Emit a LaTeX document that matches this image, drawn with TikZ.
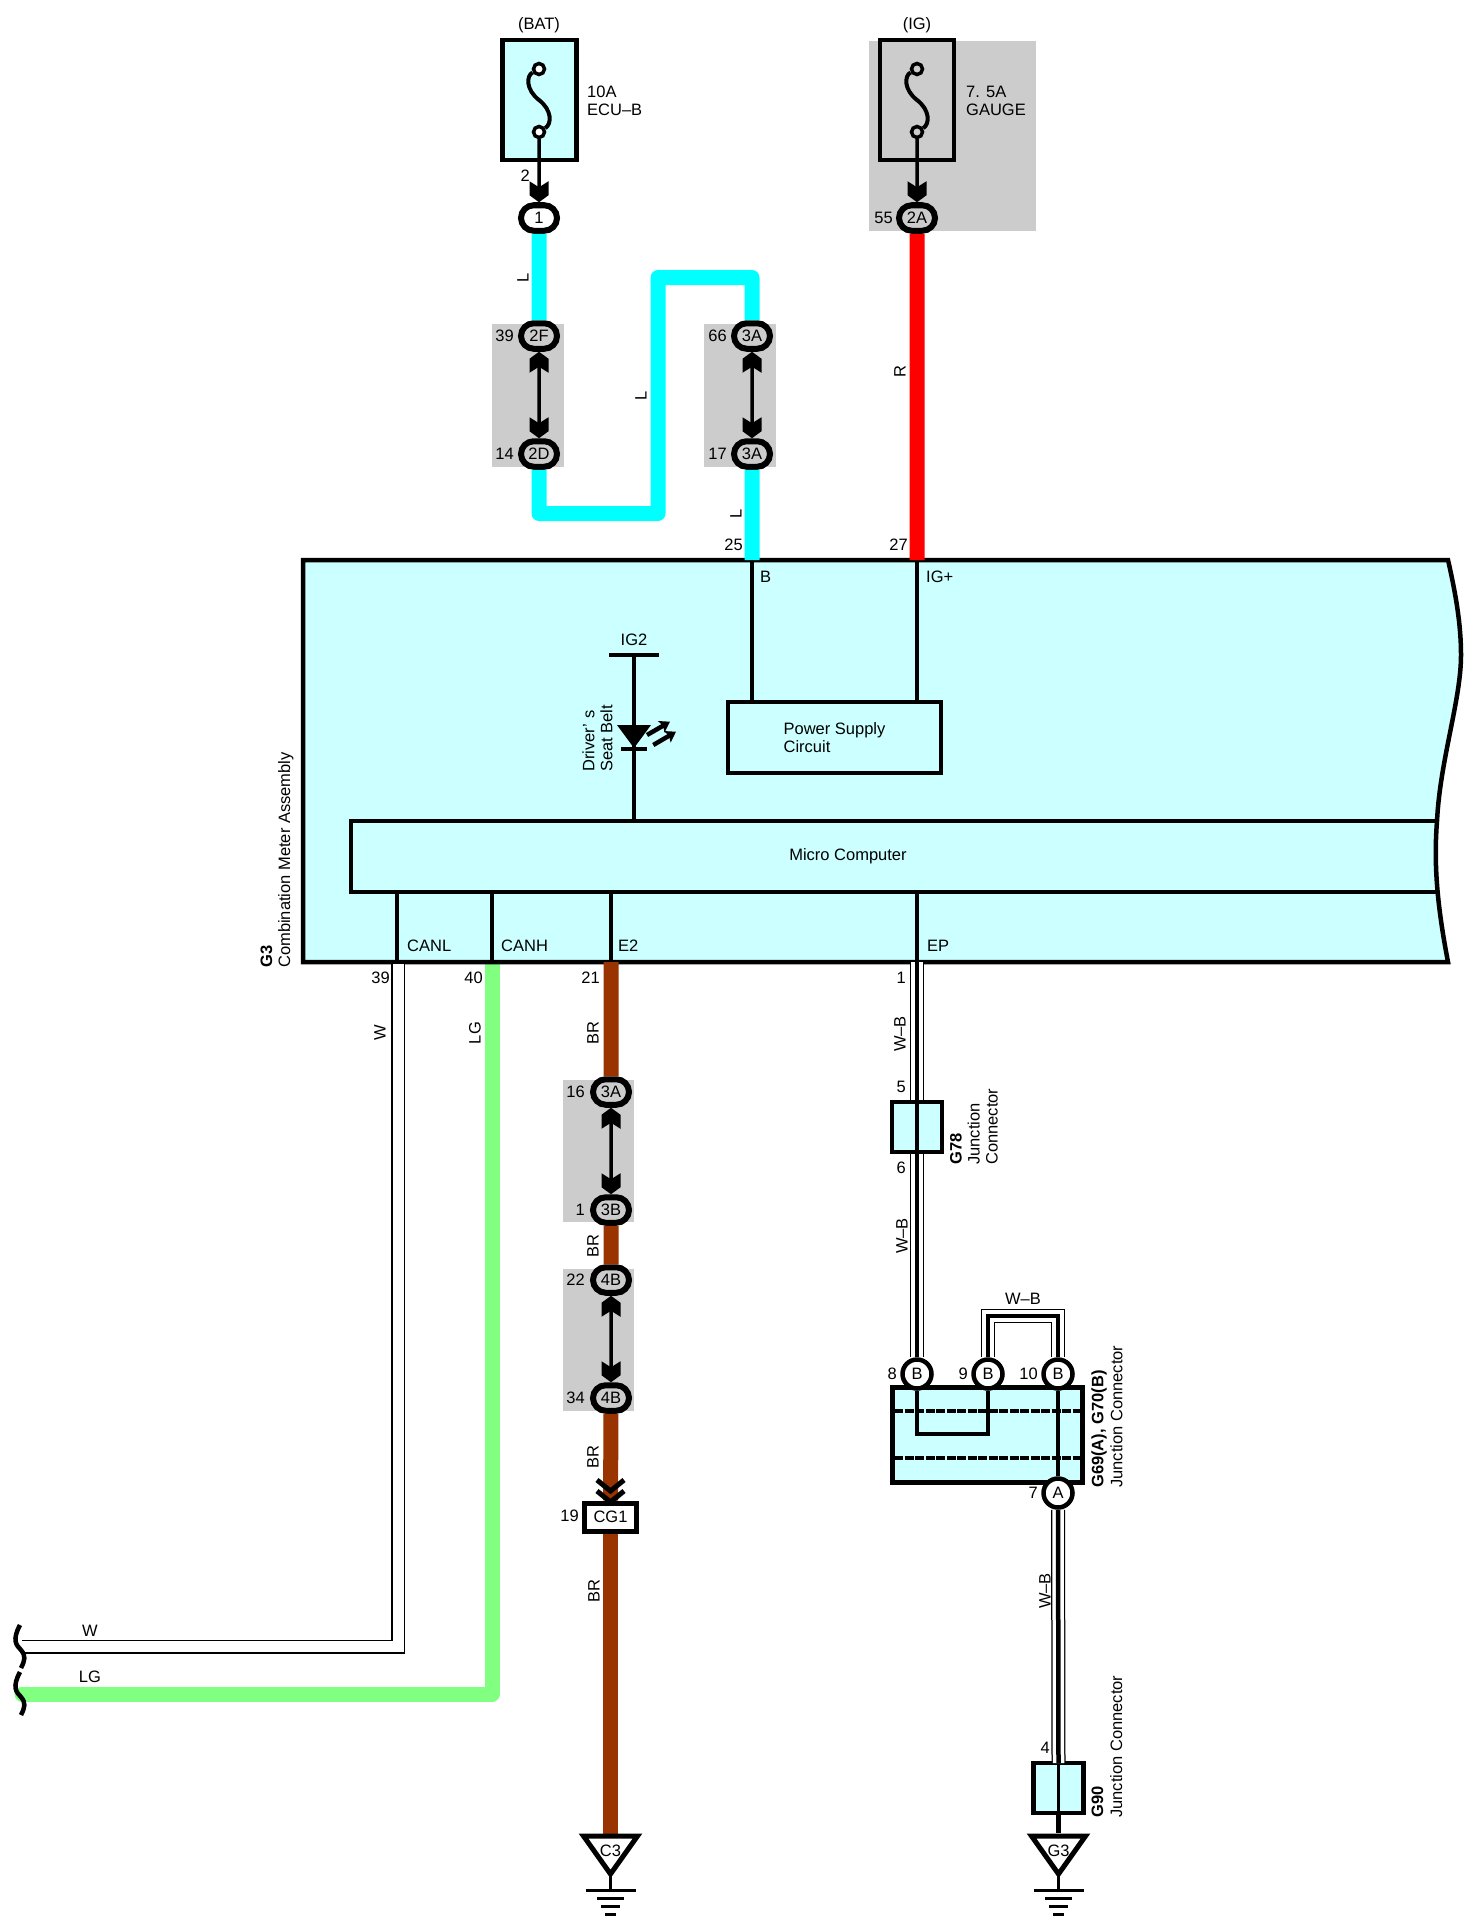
\documentclass[tikz,border=0pt]{standalone}
\usepackage{fontspec}
\setmainfont{Liberation Sans}
\usetikzlibrary{shapes.misc,arrows.meta}

\definecolor{boxcyan}{HTML}{CCFFFF}
\definecolor{bandgrey}{HTML}{CCCCCC}
\definecolor{wirecyan}{HTML}{00FFFF}
\definecolor{wirered}{HTML}{FF0000}
\definecolor{wiregreen}{HTML}{80FF80}
\definecolor{wirebrown}{HTML}{993300}

\pgfdeclarearrow{
  name=Chev,
  setup code={
    \pgfarrowssettipend{0pt}
    \pgfarrowssetbackend{-21pt}
    \pgfarrowssetlineend{-10pt}
    \pgfarrowssetvisualbackend{-21pt}
    \pgfarrowssetvisualtipend{0pt}
  },
  drawing code={
    \pgfpathmoveto{\pgfpoint{0pt}{0pt}}
    \pgfpathlineto{\pgfpoint{-7pt}{9.5pt}}
    \pgfpathlineto{\pgfpoint{-21pt}{9.5pt}}
    \pgfpathlineto{\pgfpoint{-15pt}{0pt}}
    \pgfpathlineto{\pgfpoint{-21pt}{-9.5pt}}
    \pgfpathlineto{\pgfpoint{-7pt}{-9.5pt}}
    \pgfpathclose
    \pgfusepathqfill
  },
  defaults={}
}

\tikzset{
  every node/.style={font=\fontsize{16.5}{18}\selectfont, inner sep=0pt},
  heavy/.style={line width=4.5pt},
  thinln/.style={line width=3.5pt},
  oval/.style={draw, rounded rectangle, line width=6pt, minimum width=36pt, minimum height=25.5pt},
  pin/.style={draw, circle, fill=white, line width=4.5pt, minimum size=29pt},
  tiny/.style={draw, circle, fill=white, line width=3.5pt, minimum size=11pt},
  fusebox/.style={draw, heavy, minimum width=74pt, minimum height=120pt},
  jbox/.style={draw, heavy, fill=boxcyan, minimum width=50pt, minimum height=50pt},
  wire/.style={line width=15pt, line join=round},
  wbwire/.style={line width=4.5pt, preaction={draw, black, line width=14pt}, preaction={draw, white, line width=11.5pt}},
  wwire/.style={line width=1.5pt, double=white, double distance=11pt},
  pics/gnd/.style={code={
    \draw[line width=5pt, fill=white, line join=miter] (-27,3) -- (27,3) -- (0,41) -- cycle;
    \draw[thinln] (0,41) -- (0,57);
    \draw[line width=3pt] (-25,57) -- (25,57);
    \draw[line width=3pt] (-13.5,65) -- (13.5,65);
    \draw[line width=3pt] (-9.5,73) -- (9.5,73);
    \draw[line width=3pt] (-5.5,81) -- (5.5,81);
    \node (-lab) at (0,18) {#1};
  }}
}

\begin{document}
\begin{tikzpicture}[x=1pt,y=-1pt]
  \useasboundingbox (0,0) rectangle (1479,1929);

  % grey bands
  \fill[bandgrey] (492,324) rectangle (564,467);
  \fill[bandgrey] (704,324) rectangle (776,467);
  \fill[bandgrey] (869,41) rectangle (1036,231);
  \fill[bandgrey] (563,1080) rectangle (634,1222);
  \fill[bandgrey] (563,1269) rectangle (634,1411);

  % the green wire goes under the meter box
  \coordinate (lgend) at (22,1694);
  \draw[wire, wiregreen, line cap=round] (492,950) -- (492,1694) -- (lgend);

  % combination meter
  \draw[heavy, fill=boxcyan, line join=miter] (303,560) -- (1448,560) .. controls (1456,595) and (1461,625) .. (1461,655)
    .. controls (1461,700) and (1440,760) .. (1437,821) .. controls (1434,860) and (1436,900) .. (1448,962) -- (303,962) -- cycle;
  \draw[heavy, line join=miter] (1437,821) -- (351,821) -- (351,892) -- (1436,892);
  \node (micro) at (848,856) {Micro Computer};
  \node[draw, heavy, align=left, minimum width=213pt, minimum height=71pt] (psu) at (834.5,737.5) {Power Supply\\Circuit};

  \coordinate (pinb) at (752,560);
  \coordinate (pinig) at (917,560);
  \coordinate (pincanl) at (397,962);
  \coordinate (pincanh) at (492,962);
  \coordinate (pine2) at (611,962);
  \coordinate (pinep) at (917,962);
  \draw[thinln] (pinb) -- (pinb |- psu.north);
  \draw[thinln] (pinig) -- (pinig |- psu.north);
  \draw[thinln] (397,892) -- (pincanl);
  \draw[thinln] (492,892) -- (pincanh);
  \draw[thinln] (611,892) -- (pine2);
  \draw[thinln] (917,892) -- (pinep);

  % seat belt lamp
  \node (ig2) at (634,640) {IG2};
  \coordinate (ig2bar) at (634,655);
  \draw[thinln] (609,655) -- (659,655);
  \draw[thinln] (ig2bar) -- (634,821);
  \fill (617,725) -- (651,725) -- (634,748) -- cycle;
  \draw[thinln] (621,749) -- (647,749);
  \draw[line width=4.5pt, -{Stealth[length=10pt,width=13pt,inset=2pt]}] (647,735) -- (670,721.7);
  \draw[line width=4.5pt, -{Stealth[length=10pt,width=13pt,inset=2pt]}] (653.3,745) -- (676,731.7);
  \node[rotate=90, anchor=west, align=left] (lamp) at (597.5,772) {Driver' s\\Seat Belt};

  % fuses
  \node[fusebox, fill=boxcyan] (fuse1) at (539.5,100) {};
  \node[tiny] (f1t) at (539,69) {};
  \node[tiny] (f1b) at (539,132) {};
  \draw[line width=4pt] (f1t) .. controls (526,76) and (526,90) .. (539,100) .. controls (552,110) and (552,124) .. (f1b);
  \node[fusebox] (fuse2) at (917,100) {};
  \node[tiny, fill=bandgrey] (f2t) at (917,69) {};
  \node[tiny, fill=bandgrey] (f2b) at (917,132) {};
  \draw[line width=4pt] (f2t) .. controls (904,76) and (904,90) .. (917,100) .. controls (930,110) and (930,124) .. (f2b);
  \node (bat) at (539,25) {(BAT)};
  \node (ig) at (917,25) {(IG)};
  \node[right, align=left] (ecub) at (587,100.5) {10A\\ECU–B};
  \node[right, align=left] (gauge) at (966,100.5) {7. 5A\\GAUGE};

  % in-line connectors
  \node[oval, fill=white] (o1) at (539,218) {1};
  \node[oval, fill=bandgrey] (o2f) at (539,336) {2F};
  \node[oval, fill=bandgrey] (o2d) at (539,454) {2D};
  \node[oval, fill=bandgrey] (o3at) at (752,336) {3A};
  \node[oval, fill=bandgrey] (o3ab) at (752,454) {3A};
  \node[oval, fill=bandgrey] (o2a) at (917,218) {2A};
  \node[oval, fill=bandgrey] (o3a) at (611,1092) {3A};
  \node[oval, fill=bandgrey] (o3b) at (611,1210) {3B};
  \node[oval, fill=bandgrey] (o4bt) at (611,1280) {4B};
  \node[oval, fill=bandgrey] (o4b) at (611,1398) {4B};
  \node[draw, fill=white, line width=5pt, minimum width=52pt, minimum height=28pt] (cg1) at (610.5,1517) {CG1};

  \draw[thinln, -Chev] (f1b) -- (o1);
  \draw[thinln, -Chev] (f2b) -- (o2a);
  \draw[thinln, Chev-Chev] (o2f) -- (o2d);
  \draw[thinln, Chev-Chev] (o3at) -- (o3ab);
  \draw[thinln, Chev-Chev] (o3a) -- (o3b);
  \draw[thinln, Chev-Chev] (o4bt) -- (o4b);

  % wires above the meter
  \draw[wire, wirecyan] (o1) -- (o2f);
  \draw[wire, wirecyan] (o2d) -- (539,513.5) -- (658,513.5) -- (658,277.5) -- (752,277.5) -- (o3at);
  \draw[wire, wirecyan] (o3ab) -- (pinb);
  \draw[wire, wirered] (o2a) -- (pinig);

  % wires below the meter
  \coordinate (wend) at (22,1646.5);
  \draw[wwire] (398,964) -- (398,1646.5) -- (wend);
  \draw[wire, wirebrown] (pine2) -- (o3a);
  \draw[wire, wirebrown] (o3b) -- (o4bt);
  \draw[wire, wirebrown] (o4b) -- (cg1);
  \coordinate (gc3top) at (610.5,1836);
  \draw[wire, wirebrown] (cg1) -- (gc3top);
  \pic (gc3) at (610.5,1833) {gnd=C3};
  \draw[line width=5pt, line join=miter] (597,1480) -- (610.5,1491) -- (624,1480);
  \draw[line width=5pt, line join=miter] (597,1491) -- (610.5,1502) -- (624,1491);

  % junction connector block
  \node[jbox] (g78) at (917,1127) {};
  \node[draw, heavy, fill=boxcyan, minimum width=190pt, minimum height=95pt] (jblock) at (987.5,1435) {};
  \draw[heavy, dash pattern=on 9pt off 1.5pt] (894,1411) -- (1081,1411);
  \draw[heavy, dash pattern=on 9pt off 1.5pt] (894,1458) -- (1081,1458);
  \node[pin] (b8) at (917,1374) {B};
  \node[pin] (b9) at (988,1374) {B};
  \node[pin] (b10) at (1058,1374) {B};
  \node[pin] (pina) at (1058,1493) {A};
  \draw[thinln] (b8) -- (917,1434) -- (988,1434) -- (b9);
  \draw[thinln] (b10) -- (pina);
  \node[jbox] (g90) at (1058.5,1788) {};
  \draw[thinln] (g78.north) -- (g78.south);
  \draw[thinln] (g90.north) -- (g90.south);

  \draw[wbwire] (pinep) -- (g78);
  \draw[wbwire] (g78) -- (b8);
  \draw[wbwire] (b9) -- (988,1316) -- (1058,1316) -- (b10);
  \draw[wbwire] (pina) -- (1058.5,1763);
  \pic (gg3) at (1058.5,1833) {gnd=G3};
  \coordinate (gg3top) at (1058.5,1833);
  \draw[heavy] (g90) -- (gg3top);

  % pin numbers
  \node[left] (n2) at (530,176) {2};
  \node[left] (n55) at (893,218) {55};
  \node[left] (n39a) at (514,336) {39};
  \node[left] (n14) at (514,454) {14};
  \node[left] (n66) at (727,336) {66};
  \node[left] (n17) at (727,454) {17};
  \node[left] (n25) at (743,545) {25};
  \node[left] (n27) at (908,545) {27};
  \node[left] (n39b) at (390,978) {39};
  \node[left] (n40) at (483,978) {40};
  \node[left] (n21) at (600,978) {21};
  \node[left] (n1a) at (906,978) {1};
  \node[left] (n16) at (585,1092) {16};
  \node[left] (n1b) at (585,1210) {1};
  \node[left] (n22) at (585,1280) {22};
  \node[left] (n34) at (585,1398) {34};
  \node[left] (n19) at (579,1516) {19};
  \node[left] (n5) at (906,1087) {5};
  \node[left] (n6) at (906,1168) {6};
  \node[left] (n8) at (897,1374) {8};
  \node[left] (n9) at (968,1374) {9};
  \node[left] (n10) at (1038,1374) {10};
  \node[left] (n7) at (1038,1493) {7};
  \node[left] (n4) at (1050,1748) {4};

  % terminal names
  \node[right] (tb) at (760,577) {B};
  \node[right] (tig) at (926,577) {IG+};
  \node[right] (tcanl) at (407,946) {CANL};
  \node[right] (tcanh) at (501,946) {CANH};
  \node[right] (te2) at (618,946) {E2};
  \node[right] (tep) at (927,946) {EP};

  % wire colours
  \node[rotate=90] (cl1) at (523,278) {L};
  \node[rotate=90] (cl2) at (641,396) {L};
  \node[rotate=90] (cl3) at (736,514) {L};
  \node[rotate=90] (cr) at (900,372) {R};
  \node[rotate=90] (cw) at (380,1033) {W};
  \node[rotate=90] (clg) at (475,1033) {LG};
  \node[rotate=90] (cbr1) at (593,1033) {BR};
  \node[rotate=90] (cbr2) at (593,1246) {BR};
  \node[rotate=90] (cbr3) at (593,1457) {BR};
  \node[rotate=90] (cbr4) at (594,1591) {BR};
  \node[rotate=90] (cwb1) at (900,1034) {W–B};
  \node[rotate=90] (cwb2) at (902,1236) {W–B};
  \node[rotate=90] (cwb3) at (1045,1591) {W–B};
  \node (cwb4) at (1023,1299) {W–B};
  \node (cw2) at (90,1631) {W};
  \node (clg2) at (90,1677) {LG};

  % part names
  \node[rotate=90, anchor=west, align=left] (pg3) at (277,968) {\textbf{G3}\\Combination Meter Assembly};
  \node[rotate=90, anchor=west, align=left] (pg78) at (974,1165) {\textbf{G78}\\Junction\\Connector};
  \node[rotate=90, anchor=west, align=left] (pg69) at (1107,1488) {\textbf{G69(A), G70(B)}\\[1pt]Junction Connector};
  \node[rotate=90, anchor=west, align=left] (pg90) at (1107,1818) {\textbf{G90}\\[1pt]Junction Connector};

  % broken ends
  \draw[line width=4.5pt] (20,1625) .. controls (12,1640) and (16,1645) .. (21,1650) .. controls (26,1656) and (25,1660) .. (21,1668);
  \draw[line width=4.5pt] (20,1672) .. controls (12,1687) and (16,1692) .. (21,1697) .. controls (26,1703) and (25,1707) .. (21,1715);
\end{tikzpicture}
\end{document}
